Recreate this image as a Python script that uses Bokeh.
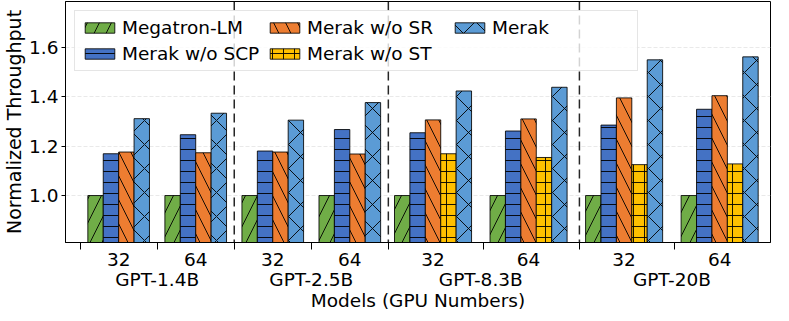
from bokeh.plotting import figure
from bokeh.models import (FixedTicker, LinearAxis, Span, Range1d, ColumnDataSource,
                          Legend, LegendItem, PrintfTickFormatter)
from bokeh.embed import file_html
from bokeh.resources import INLINE

# ---------------- data ----------------
models = ["GPT-1.4B", "GPT-2.5B", "GPT-8.3B", "GPT-20B"]
gpu_numbers = ["32", "64"]
series_names = ["Megatron-LM", "Merak w/o SCP", "Merak w/o SR", "Merak w/o ST", "Merak"]

# order of groups: (1.4B,32), (1.4B,64), (2.5B,32), (2.5B,64), (8.3B,32), (8.3B,64), (20B,32), (20B,64)
megatron_lm = [1.0, 1.0, 1.0, 1.0, 1.0, 1.0, 1.0, 1.0]
merak_wo_scp = [1.169, 1.246, 1.180, 1.267, 1.254, 1.261, 1.285, 1.349]
merak_wo_sr = [1.176, 1.173, 1.176, 1.168, 1.306, 1.310, 1.395, 1.404]
merak_wo_st = [None, None, None, None, 1.169, 1.154, 1.125, 1.128]
merak = [1.311, 1.333, 1.305, 1.376, 1.423, 1.438, 1.549, 1.561]

series_values = [megatron_lm, merak_wo_scp, merak_wo_sr, merak_wo_st, merak]

# ---------------- style ----------------
colors = ["#70AD47", "#4472C4", "#ED7D31", "#FFC000", "#5B9BD5"]
hatches = ["/", "-", "\\", "+", "x"]
hatch_scales = [24, 11, 24, 11, 24]
FONT = "DejaVu Sans"
FS = "18.5px"

# ---------------- layout of bars (in bar-width units) ----------------
n_groups = len(megatron_lm)
bar_x = [[None] * n_groups for _ in series_names]
group_centers = []
boundaries = [0.0]
cursor = 0.0
for g in range(n_groups):
    present = [s for s in range(len(series_names)) if series_values[s][g] is not None]
    n = len(present)
    if n == 4:
        lead, pitch = 0.5, 5.0
    else:
        lead, pitch = 0.4, 6.2
    for k, s in enumerate(present):
        bar_x[s][g] = cursor + lead + k + 0.5
    group_centers.append(round(cursor + lead + n / 2.0, 4))
    cursor += pitch
    boundaries.append(round(cursor, 4))

model_centers = [round((group_centers[2 * m] + group_centers[2 * m + 1]) / 2.0, 4)
                 for m in range(len(models))]
model_bounds = [boundaries[2 * m] for m in range(1, len(models))]

p = figure(width=781, height=313, output_backend="svg", toolbar_location=None,
           x_range=Range1d(-0.95, boundaries[-1]), y_range=Range1d(0.81, 1.785),
           min_border_left=0, min_border_right=11, min_border_top=1, min_border_bottom=0)

p.outline_line_color = "black"
p.outline_line_width = 1
p.xgrid.visible = False
p.ygrid.ticker = FixedTicker(ticks=[1.0, 1.2, 1.4, 1.6])
p.ygrid.grid_line_color = "#e3e3e3"
p.ygrid.grid_line_dash = "4 2"
p.ygrid.grid_line_width = 0.8

renderers = []
for s, name in enumerate(series_names):
    xs = [bar_x[s][g] for g in range(n_groups) if series_values[s][g] is not None]
    ys = [series_values[s][g] for g in range(n_groups) if series_values[s][g] is not None]
    src = ColumnDataSource(dict(x=xs, top=ys))
    r = p.vbar(x="x", top="top", width=1.0, bottom=0, source=src,
               fill_color=colors[s], line_color="black", line_width=1, line_alpha=0.85,
               hatch_pattern=hatches[s], hatch_color="black", hatch_weight=1,
               hatch_scale=hatch_scales[s], hatch_alpha=0.9)
    renderers.append(r)

for b in model_bounds:
    p.add_layout(Span(location=b, dimension="height", line_color="black",
                      line_dash="9 5", line_width=1.5, line_alpha=0.85))

# y axis
ya = p.yaxis[0]
ya.ticker = FixedTicker(ticks=[1.0, 1.2, 1.4, 1.6])
ya.formatter = PrintfTickFormatter(format="%.1f")
ya.axis_label = "Normalized Throughput"
ya.axis_label_text_font = FONT
ya.axis_label_text_font_size = "19px"
ya.axis_label_text_font_style = "normal"
ya.axis_label_text_color = "black"
ya.axis_label_standoff = 1
ya.major_label_text_font = FONT
ya.major_label_text_font_size = FS
ya.major_label_text_color = "black"
ya.major_label_standoff = 3
ya.major_tick_out = 4
ya.major_tick_in = 0
ya.minor_tick_out = 0
ya.minor_tick_in = 0
ya.axis_line_color = "black"

# x axis: GPU numbers + boundary ticks
xa = p.xaxis[0]
xa.ticker = FixedTicker(ticks=group_centers, minor_ticks=boundaries[:-1])
xa.major_label_overrides = {c: gpu_numbers[i % 2] for i, c in enumerate(group_centers)}
xa.major_label_text_font = FONT
xa.major_label_text_font_size = FS
xa.major_label_text_color = "black"
xa.major_label_standoff = 3
xa.major_tick_out = 0
xa.major_tick_in = 0
xa.minor_tick_out = 7
xa.minor_tick_in = 0
xa.minor_tick_line_color = "black"
xa.axis_line_color = "black"

# x axis: model names + title
xa2 = LinearAxis(ticker=FixedTicker(ticks=model_centers),
                 major_label_overrides={c: models[i] for i, c in enumerate(model_centers)},
                 axis_line_color=None, major_tick_line_color=None, minor_tick_line_color=None,
                 major_tick_out=0, major_tick_in=0, minor_tick_out=0, minor_tick_in=0,
                 major_label_text_font=FONT, major_label_text_font_size=FS,
                 major_label_text_color="black", major_label_standoff=0,
                 axis_label="Models (GPU Numbers)", axis_label_text_font=FONT,
                 axis_label_text_font_size=FS, axis_label_text_font_style="normal",
                 axis_label_text_color="black", axis_label_standoff=-3)
p.add_layout(xa2, "below")

legend = Legend(items=[LegendItem(label=n, renderers=[r]) for n, r in zip(series_names, renderers)],
                location="top_left", orientation="vertical", nrows=2,
                glyph_width=37, glyph_height=13, label_text_font=FONT,
                label_text_font_size=FS, label_text_color="black", label_standoff=4,
                label_width=139, spacing=5, padding=6, margin=9,
                border_line_color="#cccccc", border_line_width=1,
                background_fill_alpha=0.8)
p.add_layout(legend)

open("out.html", "w").write(file_html(p, INLINE))
